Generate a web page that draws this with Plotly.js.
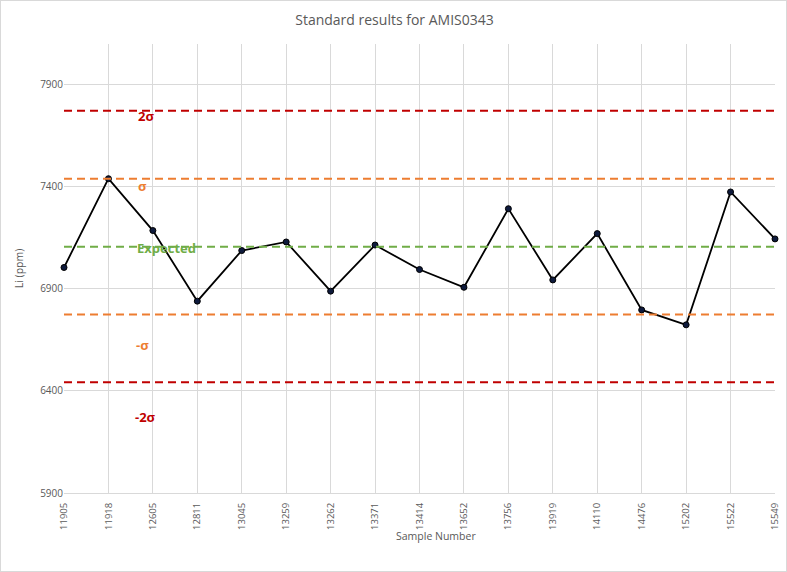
<!DOCTYPE html>
<html>
<head>
<meta charset="utf-8">
<script src="https://cdn.plot.ly/plotly-3.0.1.min.js"></script>
<style>
html,body{margin:0;padding:0;background:#fff;}
#chart{width:787px;height:572px;box-sizing:border-box;border:1px solid #D9D9D9;}
</style>
</head>
<body>
<div id="chart"></div>
<script>
const samples = ["11905","11918","12605","12811","13045","13259","13262","13371","13414","13652","13756","13919","14110","14476","15202","15522","15549"];
const liValues = [7005,7440,7186,6840,7088,7130,6889,7115,6995,6908,7293,6944,7171,6797,6724,7375,7145];
const limitNames = ["2σ","σ","Expected","-σ","-2σ"];
const limitValues = [7773,7440,7107,6775,6443];
const limitColors = ["#C00000","#ED7D31","#70AD47","#ED7D31","#C00000"];
const labelY = [7745,7405,7100,6625,6270];
const labelX = [0.115,0.11,0.144,0.11,0.114];

const shapes = limitValues.map((v,i)=>({
  type:'line', xref:'paper', x0:0, x1:1, yref:'y', y0:v, y1:v,
  line:{color:limitColors[i], width:2, dash:'8px,5px'}, layer:'above'
}));

const annotations = limitNames.map((n,i)=>({
  text:'<b>'+n+'</b>', xref:'paper', x:labelX[i], yref:'y', y:labelY[i],
  showarrow:false, font:{family:'Open Sans, Liberation Sans, sans-serif', size:13, color:limitColors[i]},
  xanchor:'center', yanchor:'middle'
}));
annotations.push({
  text:'Sample Number', xref:'paper', x:(435-63)/711, yref:'paper', y:-0.0965,
  showarrow:false, xanchor:'center', yanchor:'middle',
  font:{family:'Open Sans, Liberation Sans, sans-serif', size:10.5, color:'#595959'}
});

const trace = {
  x: samples, y: liValues, type:'scatter', mode:'lines+markers',
  line:{color:'#000000', width:1.8},
  marker:{color:'#0E1A3C', size:6, line:{color:'#000000', width:1}},
  cliponaxis:false, hoverinfo:'x+y'
};

const layout = {
  width:787, height:572,
  margin:{l:63, r:13, t:43, b:80},
  paper_bgcolor:'rgba(0,0,0,0)', plot_bgcolor:'#ffffff',
  showlegend:false,
  title:{text:'Standard results for AMIS0343', x:0.5, xanchor:'center', y:0.967, yanchor:'middle',
    font:{family:'Open Sans, Liberation Sans, sans-serif', size:14, color:'#595959'}},
  xaxis:{
    type:'category', range:[0,16], showgrid:true, gridcolor:'#D9D9D9', gridwidth:1,
    tickangle:-90, tickfont:{family:'Open Sans, Liberation Sans, sans-serif', size:9.5, color:'#595959'},
    showline:true, linecolor:'#D9D9D9', ticks:'outside', ticklen:5, tickcolor:'rgba(0,0,0,0)', zeroline:false, automargin:false
  },
  yaxis:{
    range:[5900,8100], tick0:5900, dtick:500, showgrid:true, gridcolor:'#D9D9D9', gridwidth:1,
    tickfont:{family:'Open Sans, Liberation Sans, sans-serif', size:10, color:'#595959'},
    showline:false, zeroline:false, ticks:'', ticklen:0, automargin:false,
    title:{text:'Li (ppm)', standoff:14, font:{family:'Open Sans, Liberation Sans, sans-serif', size:10.5, color:'#595959'}}
  },
  shapes:shapes,
  annotations:annotations
};

Plotly.newPlot('chart',[trace],layout,{displayModeBar:false, staticPlot:true});
</script>
</body>
</html>
